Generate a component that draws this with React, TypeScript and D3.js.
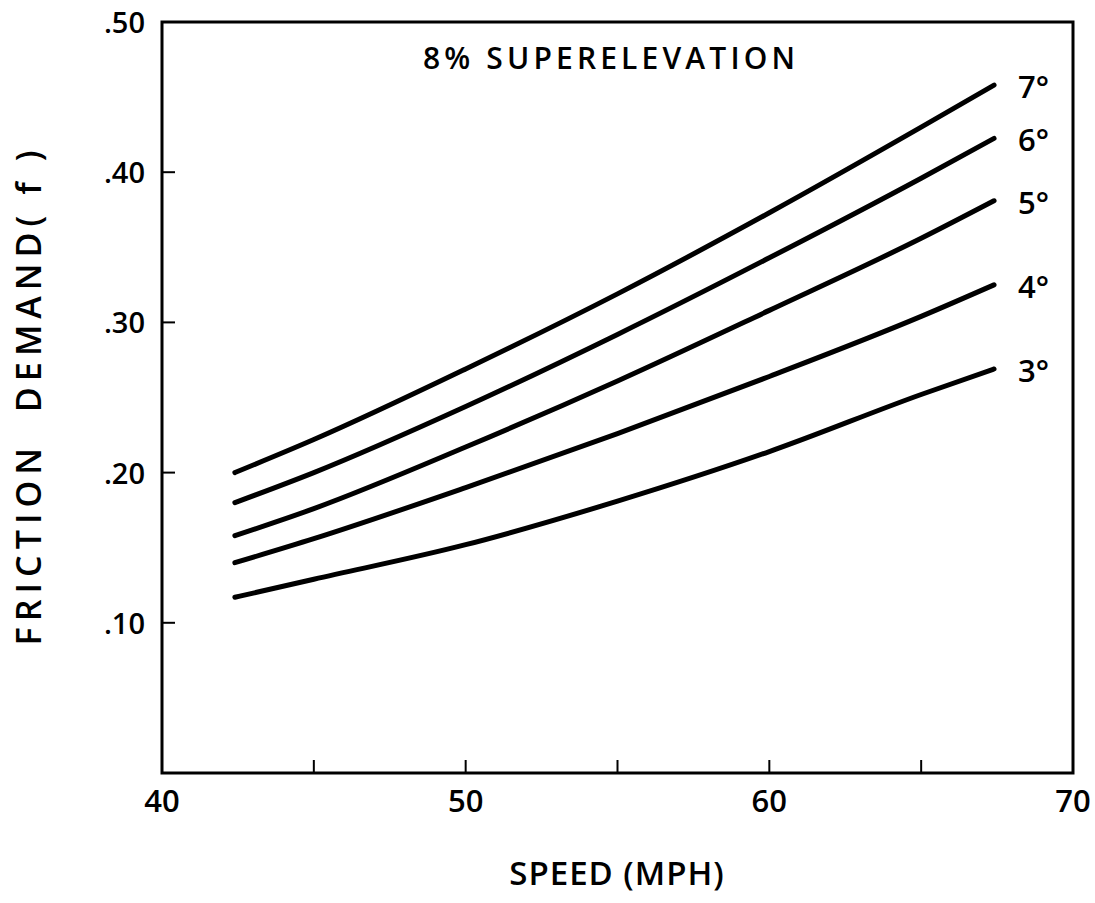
import React, { useRef, useEffect } from 'react';
import * as d3 from 'd3';

// speed (mph) sample points
const speeds = [42.4, 45, 50, 55, 60, 65, 67.4];
const curveLabels = ['7°', '6°', '5°', '4°', '3°'];
const friction7 = [0.2, 0.222, 0.269, 0.319, 0.373, 0.43, 0.458];
const friction6 = [0.18, 0.2, 0.244, 0.292, 0.343, 0.396, 0.4225];
const friction5 = [0.158, 0.176, 0.217, 0.261, 0.308, 0.356, 0.381];
const friction4 = [0.14, 0.156, 0.19, 0.226, 0.264, 0.304, 0.325];
const friction3 = [0.117, 0.129, 0.152, 0.181, 0.214, 0.252, 0.269];
const xTicks = [45, 50, 55, 60, 65];
const xTickLabels = [40, 50, 60, 70];
const yTicks = [0.1, 0.2, 0.3, 0.4];
const yTickLabels = [0.1, 0.2, 0.3, 0.4, 0.5];

const FONT = '"Open Sans", "DejaVu Sans", sans-serif';

const Chart = () => {
  const ref = useRef<SVGSVGElement | null>(null);

  useEffect(() => {
    if (!ref.current) return;
    const svg = d3.select(ref.current);
    svg.selectAll('*').remove();

    const width = 1095;
    const height = 903;
    svg.attr('width', width).attr('height', height);

    const x = d3.scaleLinear().domain([40, 70]).range([162, 1073]);
    const y = d3.scaleLinear().domain([0, 0.5]).range([773, 22]);

    // 프레임
    svg
      .append('rect')
      .attr('x', x(40))
      .attr('y', y(0.5))
      .attr('width', x(70) - x(40))
      .attr('height', y(0) - y(0.5))
      .attr('fill', 'none')
      .attr('stroke', '#000')
      .attr('stroke-width', 3);

    // 안쪽 눈금
    svg
      .append('g')
      .selectAll('line')
      .data(xTicks)
      .enter()
      .append('line')
      .attr('x1', (d) => x(d))
      .attr('x2', (d) => x(d))
      .attr('y1', y(0))
      .attr('y2', y(0) - 13)
      .attr('stroke', '#000')
      .attr('stroke-width', 2);

    svg
      .append('g')
      .selectAll('line')
      .data(yTicks)
      .enter()
      .append('line')
      .attr('x1', x(40))
      .attr('x2', x(40) + 13)
      .attr('y1', (d) => y(d))
      .attr('y2', (d) => y(d))
      .attr('stroke', '#000')
      .attr('stroke-width', 2);

    // 눈금 라벨
    svg
      .append('g')
      .selectAll('text')
      .data(xTickLabels)
      .enter()
      .append('text')
      .text((d) => d)
      .attr('x', (d) => x(d))
      .attr('y', 812)
      .attr('text-anchor', 'middle')
      .attr('font-size', '31px')
      .attr('font-weight', 600)
      .style('font-family', FONT);

    svg
      .append('g')
      .selectAll('text')
      .data(yTickLabels)
      .enter()
      .append('text')
      .text((d) => d3.format('.2f')(d).replace(/^0/, ''))
      .attr('x', 145)
      .attr('y', (d) => y(d) + 11)
      .attr('text-anchor', 'end')
      .attr('font-size', '29px')
      .attr('font-weight', 600)
      .style('font-family', FONT);

    // 곡선
    const series = [friction7, friction6, friction5, friction4, friction3];
    const line = d3
      .line<number>()
      .x((_, i) => x(speeds[i]))
      .y((d) => y(d))
      .curve(d3.curveMonotoneX);

    svg
      .append('g')
      .selectAll('path')
      .data(series)
      .enter()
      .append('path')
      .attr('d', (d) => line(d))
      .attr('fill', 'none')
      .attr('stroke', '#000')
      .attr('stroke-width', 5)
      .attr('stroke-linecap', 'round');

    // 곡선 라벨
    svg
      .append('g')
      .selectAll('text')
      .data(series)
      .enter()
      .append('text')
      .text((_, i) => curveLabels[i])
      .attr('x', 1018)
      .attr('y', (d) => y(d[d.length - 1]) + 2)
      .attr('dy', '0.35em')
      .attr('font-size', '31px')
      .attr('font-weight', 600)
      .style('font-family', FONT);

    svg
      .append('text')
      .text('8% SUPERELEVATION')
      .attr('x', 423)
      .attr('y', 69)
      .attr('font-size', '30px')
      .attr('font-weight', 600)
      .attr('textLength', 372)
      .style('font-family', FONT);

    svg
      .append('text')
      .text('SPEED (MPH)')
      .attr('x', 617)
      .attr('y', 885)
      .attr('text-anchor', 'middle')
      .attr('font-size', '33px')
      .attr('font-weight', 600)
      .attr('letter-spacing', '1px')
      .style('font-family', FONT);

    svg
      .append('text')
      .text('FRICTION  DEMAND( f )')
      .attr('transform', 'translate(41,398) rotate(-90)')
      .attr('text-anchor', 'middle')
      .attr('font-size', '34px')
      .attr('font-weight', 600)
      .attr('textLength', 495)
      .style('font-family', FONT)
      .style('white-space', 'pre');
  }, []);

  return <svg ref={ref} style={{ position: 'absolute', left: 0, top: 0 }} />;
};

export default function App() {
  return <Chart />;
}
